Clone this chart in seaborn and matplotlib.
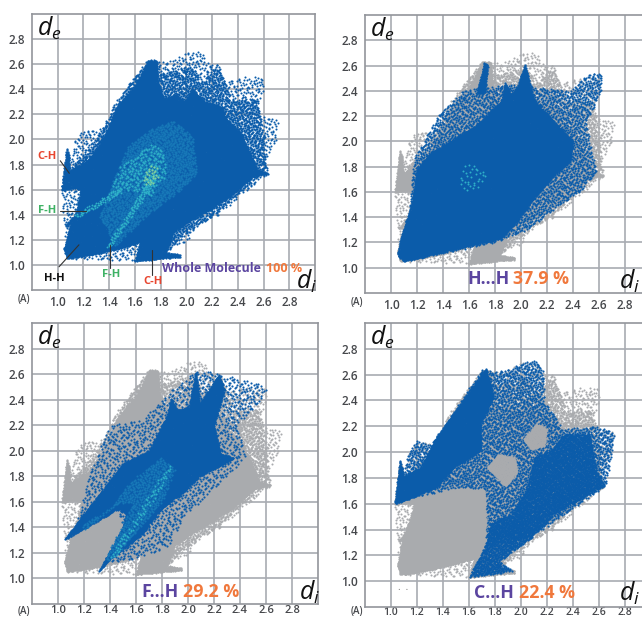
import numpy as np
import pandas as pd
import matplotlib
matplotlib.use("Agg")
import matplotlib.pyplot as plt
from matplotlib.path import Path
import seaborn as sns

sns.set_theme(style="white")
plt.rcParams["font.family"] = ["Open Sans", "DejaVu Sans"]
plt.rcParams["mathtext.fontset"] = "custom"
plt.rcParams["mathtext.it"] = "Open Sans:italic"
plt.rcParams["mathtext.rm"] = "Open Sans"

# Region outlines, as (di, de) in angstrom
WHOLE_SOLID = [(1.03,1.595),(1.07,1.94),(1.09,1.86),(1.09,1.75),(1.23,1.83),(1.31,1.94),(1.40,2.10),
               (1.46,2.26),(1.59,2.41),(1.71,2.63),(1.77,2.63),(1.78,2.44),(1.83,2.32),(1.92,2.36),(1.98,2.30),
               (2.05,2.40),(2.14,2.30),(2.28,2.26),(2.30,2.18),(2.42,2.05),(2.50,1.88),(2.55,1.76),(2.65,1.73),
               (2.51,1.70),(2.37,1.57),(2.21,1.46),(2.04,1.36),(1.90,1.26),(1.84,1.10),(1.95,1.08),(1.95,1.065),
               (1.60,1.03),(1.64,1.185),(1.55,1.15),(1.31,1.09),(1.07,1.05),(1.05,1.13),(1.10,1.33),(1.05,1.30),
               (1.14,1.41),(1.18,1.60),(1.12,1.61)]
WHOLE_DENSE = [(1.09,1.75),(1.30,2.00),(1.45,2.30),(1.70,2.64),(1.80,2.52),(2.00,2.58),(2.05,2.57),(2.12,2.45),
               (2.24,2.60),(2.30,2.45),(2.35,2.32),(2.55,2.32),(2.60,2.05),(2.62,1.78),(2.50,1.65),(2.22,1.40),
               (1.95,1.22),(1.85,1.10)]
WHOLE_SPARSE = [(1.03,1.595),(1.10,1.85),(1.13,1.98),(1.20,2.09),(1.30,2.06),(1.40,2.15),(1.50,2.35),(1.70,2.64),
                (1.80,2.62),(1.90,2.64),(2.00,2.69),(2.12,2.71),(2.17,2.62),(2.25,2.60),(2.30,2.48),(2.45,2.50),
                (2.58,2.50),(2.62,2.45),(2.55,2.25),(2.62,2.17),(2.72,2.15),(2.70,2.00),(2.62,1.85),(2.65,1.73),
                (2.42,1.55),(2.25,1.40),(2.08,1.33),(2.02,1.20),(1.88,1.13),(1.80,1.10),(1.60,1.03),(1.07,1.05),
                (1.05,1.30)]
CENTRE_TEAL = [(1.32,1.38),(1.45,1.72),(1.55,1.95),(1.72,2.08),(1.90,2.15),(2.05,2.02),(2.08,1.72),
               (1.90,1.55),(1.70,1.40),(1.45,1.15)]
CENTRE_CYAN = [(1.40,1.55),(1.48,1.78),(1.60,1.86),(1.72,1.98),(1.83,1.90),(1.84,1.70),(1.72,1.55),(1.58,1.60)]
CENTRE_GREEN = [(1.66,1.66),(1.70,1.78),(1.77,1.80),(1.78,1.68),(1.72,1.62)]
FH_UPPER_STREAK = [(1.12,1.39),(1.32,1.52),(1.50,1.62),(1.50,1.58),(1.32,1.47),(1.16,1.38)]
FH_LOWER_STREAK = [(1.36,1.13),(1.55,1.42),(1.72,1.72),(1.76,1.68),(1.60,1.42),(1.42,1.15)]

HH_SOLID = [(1.05,1.10),(1.10,1.05),(1.31,1.10),(1.62,1.18),(1.85,1.23),(1.97,1.37),(2.10,1.55),(2.26,1.74),
            (2.38,1.84),(2.40,2.00),(2.26,2.15),(2.10,2.33),(2.03,2.61),(1.97,2.43),(1.92,2.37),(1.88,2.47),
            (1.85,2.32),(1.65,2.12),(1.45,2.00),(1.30,1.90),(1.20,1.78),(1.18,1.63),(1.15,1.47),(1.08,1.26)]
HH_SPIKE = [(1.66,2.38),(1.72,2.63),(1.745,2.60),(1.72,2.38)]
HH_SPARSE = [(1.18,1.87),(1.36,2.20),(1.55,2.40),(1.90,2.45),(2.20,2.42),(2.38,2.40),(2.50,2.52),(2.62,2.55),
             (2.62,2.40),(2.50,2.15),(2.58,1.75),(2.45,1.60),(2.30,1.50),(2.05,1.30),(1.80,1.20),(1.10,1.05)]
HH_CENTRE = [(1.52,1.62),(1.55,1.82),(1.68,1.82),(1.75,1.68),(1.62,1.60)]

FH_SOLID = [(1.18,1.48),(1.35,1.70),(1.50,1.90),(1.70,2.00),(1.85,2.30),(1.87,2.42),(1.91,2.32),(2.01,2.34),
            (2.06,2.63),(2.09,2.37),(2.24,2.60),(2.28,2.47),(2.20,2.20),(2.25,1.98),(2.35,1.94),(2.09,1.80),
            (1.95,1.66),(1.80,1.55),(1.65,1.35),(1.40,1.15),(1.31,1.05),(1.50,1.40),(1.53,1.51),(1.45,1.54),
            (1.27,1.43),(1.05,1.305)]
FH_SPARSE = [(1.14,1.43),(1.25,1.85),(1.40,2.20),(1.65,2.25),(1.85,2.45),(2.06,2.63),(2.26,2.60),(2.45,2.55),
             (2.62,2.50),(2.55,2.38),(2.38,2.20),(2.45,1.95),(2.15,1.65),(1.95,1.45),(1.85,1.25),(1.60,1.15),
             (1.40,1.12),(1.50,1.40),(1.45,1.54)]
FH_TEAL = [(1.18,1.42),(1.40,1.55),(1.55,1.75),(1.80,1.95),(1.90,1.85),(1.80,1.60),(1.65,1.42),(1.40,1.13),
           (1.36,1.15),(1.58,1.60),(1.45,1.58),(1.20,1.38)]
FH_CYAN = [(1.38,1.15),(1.60,1.50),(1.75,1.75),(1.85,1.90),(1.88,1.86),(1.70,1.55),(1.45,1.17)]

CH_WING = [(1.03,1.60),(1.07,1.95),(1.10,1.81),(1.23,1.88),(1.35,2.12),(1.48,2.30),(1.73,2.65),(1.79,2.43),
           (1.69,2.22),(1.69,2.01),(1.48,1.88),(1.35,1.73),(1.17,1.65)]
CH_LOWER = [(1.60,1.03),(1.94,1.08),(1.83,1.15),(2.08,1.34),(2.25,1.52),(2.43,1.62),(2.65,1.74),(2.58,1.86),
            (2.53,2.14),(2.33,2.14),(2.23,2.01),(2.10,1.96),(2.05,1.73),(1.92,1.52),(1.76,1.44),(1.73,1.29)]
CH_SPARSE = [(1.03,1.60),(1.10,1.85),(1.13,1.98),(1.20,2.09),(1.30,2.06),(1.40,2.15),(1.50,2.35),(1.70,2.64),
             (1.80,2.62),(1.90,2.64),(2.00,2.69),(2.12,2.71),(2.17,2.62),(2.18,2.40),(2.32,2.18),(2.60,2.20),
             (2.72,2.15),(2.70,2.00),(2.65,1.74),(2.08,1.34),(1.73,1.29),(1.72,1.72),(1.48,1.72),(1.17,1.65)]
CH_GREY_MAIN = [(1.06,1.10),(1.10,1.05),(1.33,1.10),(1.66,1.18),(1.73,1.44),(1.72,1.70),(1.48,1.71),(1.20,1.62),
                (1.14,1.47),(1.08,1.29)]
CH_GREY_MID = [(1.74,1.88),(1.82,1.98),(1.95,1.96),(1.97,1.85),(1.88,1.73),(1.80,1.82)]
CH_GREY_UP = [(2.02,2.10),(2.12,2.22),(2.20,2.18),(2.18,2.05),(2.08,2.02)]

TICKS = [1.0, 1.2, 1.4, 1.6, 1.8, 2.0, 2.2, 2.4, 2.6, 2.8]
TITLES = ["Whole Molecule", "H...H", "F...H", "C...H"]
PERCENTS = ["100 %", "37.9 %", "29.2 %", "22.4 %"]

BLUE, GREY = "#0B5CAA", "#A9ABAE"
TEAL, CYAN, GREEN = "#1778B8", "#2EB0C8", "#7FCFA0"
PURPLE, ORANGE = "#5B45A0", "#F0783C"
W, H = 642, 618
SOLID, DENSE, MEDIUM, SPARSE = 18000, 4000, 1800, 900


def halton(n, base):
    """Van der Corput digits: an even, deterministic fill of the unit interval."""
    out, f = np.zeros(len(n)), 1.0
    n = n.copy()
    while n.any():
        f /= base
        out += f * (n % base)
        n //= base
    return out


def cloud(outline, density):
    """Even stipple covering a region outline (no random numbers)."""
    xy = np.array(outline)
    lo, hi = xy.min(axis=0), xy.max(axis=0)
    count = int(density * np.prod(hi - lo))
    n = np.arange(1, count + 1)
    pts = lo + np.c_[halton(n, 2), halton(n, 3)] * (hi - lo)
    pts = pts[Path(xy).contains_points(pts)]
    return pd.DataFrame(pts, columns=["di", "de"])


def layer(ax, outline, color, density=SOLID, size=2.6):
    sns.scatterplot(data=cloud(outline, density), x="di", y="de", color=color,
                    s=size, linewidth=0, ax=ax, legend=False, zorder=3)


def panel(box, pad, xsize):
    left, top, right, bottom = box
    ax = fig.add_axes([left / W, 1 - bottom / H, (right - left) / W, (bottom - top) / H])
    ax.set_xlim(0.8, 3.0)
    ax.set_ylim(0.8, 3.0)
    ax.set_xticks(TICKS, [f"{t:.1f}" for t in TICKS])
    ax.set_yticks(TICKS, [f"{t:.1f}" for t in TICKS])
    ax.grid(True, color="#A8ABB2", lw=1.2)
    ax.set_axisbelow(True)
    ax.tick_params(axis="x", length=0, labelsize=xsize, labelcolor="#45474B", pad=pad)
    ax.tick_params(axis="y", length=0, labelsize=8.5, labelcolor="#45474B", pad=5)
    for lab in ax.get_xticklabels() + ax.get_yticklabels():
        lab.set_fontweight("semibold")
    for s in ax.spines.values():
        s.set_color("#92959B")
        s.set_linewidth(1.2)
    return ax


def put(x, y, s, **kw):
    fig.text(x / W, 1 - y / H, s, va="center", **kw)


def grey_base(ax):
    layer(ax, WHOLE_SPARSE, GREY, MEDIUM, 2.2)
    layer(ax, WHOLE_DENSE, GREY, DENSE, 2.4)
    layer(ax, WHOLE_SOLID, GREY)


fig = plt.figure(figsize=(W / 100, H / 100), dpi=100, facecolor="white")
BOXES = [(32, 14, 315, 290), (365, 15, 651, 293), (32, 323, 318, 604), (365, 323, 651, 607)]
PADS = [4, 4, 1, 0]
XSIZES = [8.5, 8.5, 8, 7.5]
axes = [panel(b, p, s) for b, p, s in zip(BOXES, PADS, XSIZES)]

# Whole molecule
ax = axes[0]
layer(ax, WHOLE_SPARSE, BLUE, MEDIUM, 2.2)
layer(ax, WHOLE_DENSE, BLUE, DENSE, 2.4)
layer(ax, WHOLE_SOLID, BLUE)
layer(ax, CENTRE_TEAL, TEAL, DENSE, 2.4)
layer(ax, CENTRE_CYAN, CYAN, MEDIUM, 2.4)
layer(ax, FH_UPPER_STREAK, CYAN, DENSE, 1.8)
layer(ax, FH_LOWER_STREAK, CYAN, DENSE, 1.8)
layer(ax, CENTRE_GREEN, GREEN, MEDIUM, 2.4)

# H...H
ax = axes[1]
grey_base(ax)
layer(ax, HH_SPARSE, BLUE, DENSE, 2.2)
layer(ax, HH_SOLID, BLUE)
layer(ax, HH_SPIKE, BLUE)
layer(ax, HH_CENTRE, CYAN, SPARSE, 2.0)

# F...H
ax = axes[2]
grey_base(ax)
layer(ax, FH_SPARSE, BLUE, MEDIUM, 2.4)
layer(ax, FH_SOLID, BLUE)
layer(ax, FH_TEAL, TEAL, DENSE, 2.2)
layer(ax, FH_CYAN, CYAN, MEDIUM, 2.0)

# C...H
ax = axes[3]
grey_base(ax)
layer(ax, CH_SPARSE, BLUE, DENSE, 2.4)
layer(ax, CH_WING, BLUE)
layer(ax, CH_LOWER, BLUE, 9000, 2.6)
layer(ax, CH_GREY_MAIN, GREY)
layer(ax, CH_GREY_MID, GREY)
layer(ax, CH_GREY_UP, GREY)

for ax in axes:
    ax.set_xlabel("")
    ax.set_ylabel("")

# Contact labels on the first panel
NOTES = [("C-H", "#E8452F", (0.92, 1.865), (1.02, 1.83), (1.09, 1.73)),
         ("F-H", "#3FB265", (0.92, 1.43), (1.02, 1.43), (1.22, 1.43)),
         ("H-H", "#111111", (0.97, 0.895), (1.01, 0.985), (1.165, 1.16)),
         ("F-H", "#3FB265", (1.415, 0.92), (1.405, 0.975), (1.405, 1.16)),
         ("C-H", "#E8452F", (1.74, 0.87), (1.735, 0.92), (1.735, 1.12))]
for label, col, pos, start, end in NOTES:
    axes[0].text(*pos, label, color=col, fontsize=8, fontweight="bold", ha="center", va="center", zorder=5)
    axes[0].plot([start[0], end[0]], [start[1], end[1]], color="#333333", lw=0.8, zorder=5)

# Panel titles and axis letters
put(162, 268, TITLES[0], color=PURPLE, fontsize=9, fontweight="bold")
put(266, 268, PERCENTS[0], color=ORANGE, fontsize=9, fontweight="bold")
put(467, 279, TITLES[1], color=PURPLE, fontsize=12.8, fontweight="bold")
put(513, 279, PERCENTS[1], color=ORANGE, fontsize=12.8, fontweight="bold")
put(141, 592, TITLES[2], color=PURPLE, fontsize=12.8, fontweight="bold")
put(183, 592, PERCENTS[2], color=ORANGE, fontsize=12.8, fontweight="bold")
put(474, 593, TITLES[3], color=PURPLE, fontsize=12.8, fontweight="bold")
put(519, 593, PERCENTS[3], color=ORANGE, fontsize=12.8, fontweight="bold")

for x, y in [(37, 28), (370, 29), (37, 337), (370, 337)]:
    put(x, y, r"$d_e$", fontsize=18, color="#111111")
for x, y in [(296, 281), (619, 281), (299, 592), (619, 593)]:
    put(x, y, r"$d_i$", fontsize=18, color="#111111")
for x, y in [(18, 300), (351, 302), (18, 612), (351, 612)]:
    put(x, y, "(A)", fontsize=7, color="#45474B", fontweight="semibold")
put(398, 587, ".  .", fontsize=7, color="#777777")

fig.savefig("out.png", dpi=100)
